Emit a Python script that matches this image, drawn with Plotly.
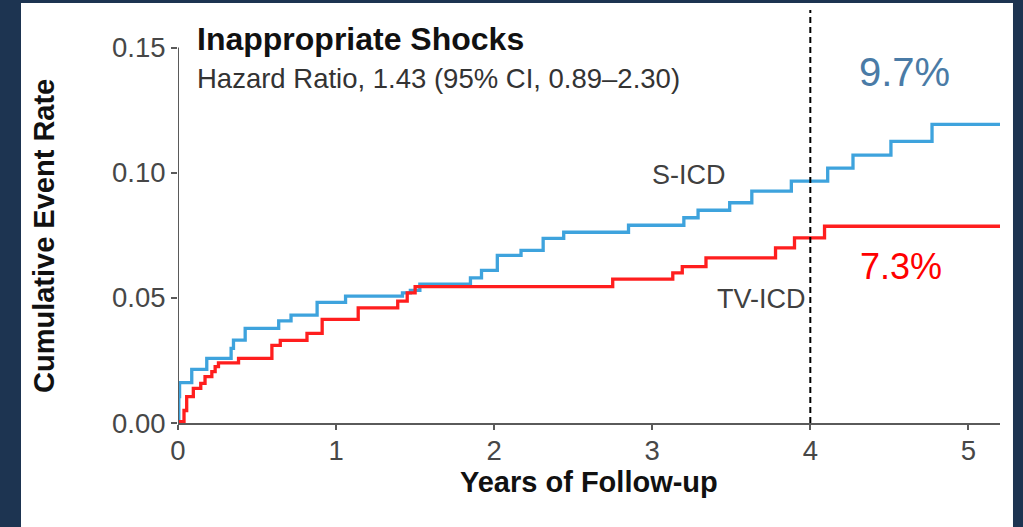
import plotly.graph_objects as go

# ---- data ----
sicd_t = [0, 0.005, 0.01, 0.087, 0.182, 0.336, 0.351, 0.425, 0.637, 0.715, 0.88, 1.06,
          1.42, 1.47, 1.53, 1.85, 1.92, 2.02, 2.17, 2.31, 2.44, 2.85, 3.20, 3.29, 3.49,
          3.63, 3.88, 4.11, 4.27, 4.51, 4.77, 5.2]
sicd_v = [0, 0.0105, 0.0161, 0.0214, 0.0258, 0.0298, 0.0331, 0.0378, 0.0408, 0.0431, 0.0482, 0.0507,
          0.052, 0.053, 0.0555, 0.058, 0.061, 0.067, 0.069, 0.0738, 0.0762, 0.079, 0.082, 0.085, 0.088,
          0.0926, 0.0966, 0.1018, 0.107, 0.1125, 0.1193, 0.1193]

tvicd_t = [0, 0.013, 0.038, 0.055, 0.097, 0.144, 0.171, 0.214, 0.235, 0.256, 0.383, 0.594,
           0.647, 0.816, 0.912, 1.14, 1.39, 1.45, 1.50, 2.75, 3.13, 3.19, 3.34, 3.78, 3.90,
           4.09, 5.2]
tvicd_v = [0, 0.0005, 0.005, 0.0105, 0.0138, 0.0158, 0.0185, 0.0205, 0.0225, 0.024, 0.0258, 0.031,
           0.033, 0.0358, 0.0414, 0.046, 0.0487, 0.052, 0.0545, 0.0575, 0.060, 0.0625, 0.066, 0.070, 0.074,
           0.0786, 0.0786]

x_ticks = [0, 1, 2, 3, 4, 5]
y_ticks = [0, 0.05, 0.10, 0.15]
y_ticktext = ["0.00", "0.05", "0.10", "0.15"]

title_text = "Inappropriate Shocks"
subtitle_text = "Hazard Ratio, 1.43 (95% CI, 0.89\u20132.30)"
x_title = "Years of Follow-up"
y_title = "Cumulative Event Rate"
sicd_label = "S-ICD"
tvicd_label = "TV-ICD"
sicd_pct = "9.7%"
tvicd_pct = "7.3%"
landmark_year = 4

BLUE = "#3ea3dd"
RED = "#ff1e1e"
NAVY = "#1d3451"
AXIS = "#5a5a5a"
FONT = "Liberation Sans, Arial, sans-serif"

fig = go.Figure()
fig.add_trace(go.Scatter(x=sicd_t, y=sicd_v, mode="lines", line=dict(color=BLUE, width=3.3, shape="hv"),
                         hoverinfo="skip", showlegend=False))
fig.add_trace(go.Scatter(x=tvicd_t, y=tvicd_v, mode="lines", line=dict(color=RED, width=3.3, shape="hv"),
                         hoverinfo="skip", showlegend=False))

shapes = [
    # white panel
    dict(type="rect", xref="paper", yref="paper", x0=-0.191, x1=1.0158, y0=-0.3, y1=1.017,
         fillcolor="white", line=dict(width=0), layer="below"),
    # y axis line
    dict(type="line", xref="x", yref="y", x0=0, x1=0, y0=0, y1=0.15,
         line=dict(color=AXIS, width=2)),
    # landmark dashed line
    dict(type="line", xref="x", yref="paper", x0=landmark_year, x1=landmark_year, y0=0, y1=1,
         line=dict(color="black", width=2, dash="6px,4px")),
]

annotations = [
    dict(text="<b>" + title_text + "</b>", x=0.1075, y=0.1534, xref="x", yref="y",
         xanchor="left", yanchor="middle", showarrow=False,
         font=dict(family=FONT, size=32, color="#111111")),
    dict(text=subtitle_text, x=0.1075, y=0.1378, xref="x", yref="y",
         xanchor="left", yanchor="middle", showarrow=False,
         font=dict(family=FONT, size=27.5, color="#333333")),
    dict(text=sicd_label, x=3.233, y=0.0991, xref="x", yref="y", showarrow=False,
         xanchor="center", yanchor="middle", font=dict(family=FONT, size=27, color="#404040")),
    dict(text=tvicd_label, x=3.694, y=0.0495, xref="x", yref="y", showarrow=False,
         xanchor="center", yanchor="middle", font=dict(family=FONT, size=27, color="#404040")),
    dict(text=sicd_pct, x=4.593, y=0.1402, xref="x", yref="y", showarrow=False,
         xanchor="center", yanchor="middle", font=dict(family=FONT, size=40, color="#4a7ba6")),
    dict(text=tvicd_pct, x=4.574, y=0.0627, xref="x", yref="y", showarrow=False,
         xanchor="center", yanchor="middle", font=dict(family=FONT, size=36, color="#ff0000")),
    dict(text="<b>" + y_title + "</b>", x=-0.163, y=0.4528, xref="paper", yref="paper",
         textangle=-90, showarrow=False, xanchor="center", yanchor="middle",
         font=dict(family=FONT, size=29, color="#111111")),
    dict(text="<b>" + x_title + "</b>", x=0.5, y=-0.1429, xref="paper", yref="paper",
         showarrow=False, xanchor="center", yanchor="middle",
         font=dict(family=FONT, size=29, color="#111111")),
]

fig.update_layout(
    width=1023, height=527,
    margin=dict(l=178, r=23, t=10, b=104),
    paper_bgcolor=NAVY, plot_bgcolor="rgba(0,0,0,0)",
    shapes=shapes, annotations=annotations,
    showlegend=False,
    xaxis=dict(range=[0, 5.2], tickvals=x_ticks, ticks="outside", ticklen=5, tickwidth=2,
               tickcolor=AXIS, showline=True, linecolor=AXIS, linewidth=2, showgrid=False,
               zeroline=False, tickfont=dict(family=FONT, size=27.5, color="#474747"),
               ticklabelstandoff=-3, fixedrange=True),
    yaxis=dict(range=[0, 0.165], tickvals=y_ticks, ticktext=y_ticktext, ticks="outside",
               ticklen=6, tickwidth=2, tickcolor=AXIS, showline=False, showgrid=False,
               zeroline=False, tickfont=dict(family=FONT, size=27.5, color="#474747"),
               fixedrange=True),
)

fig.write_html("out.html", config={"displayModeBar": False})
